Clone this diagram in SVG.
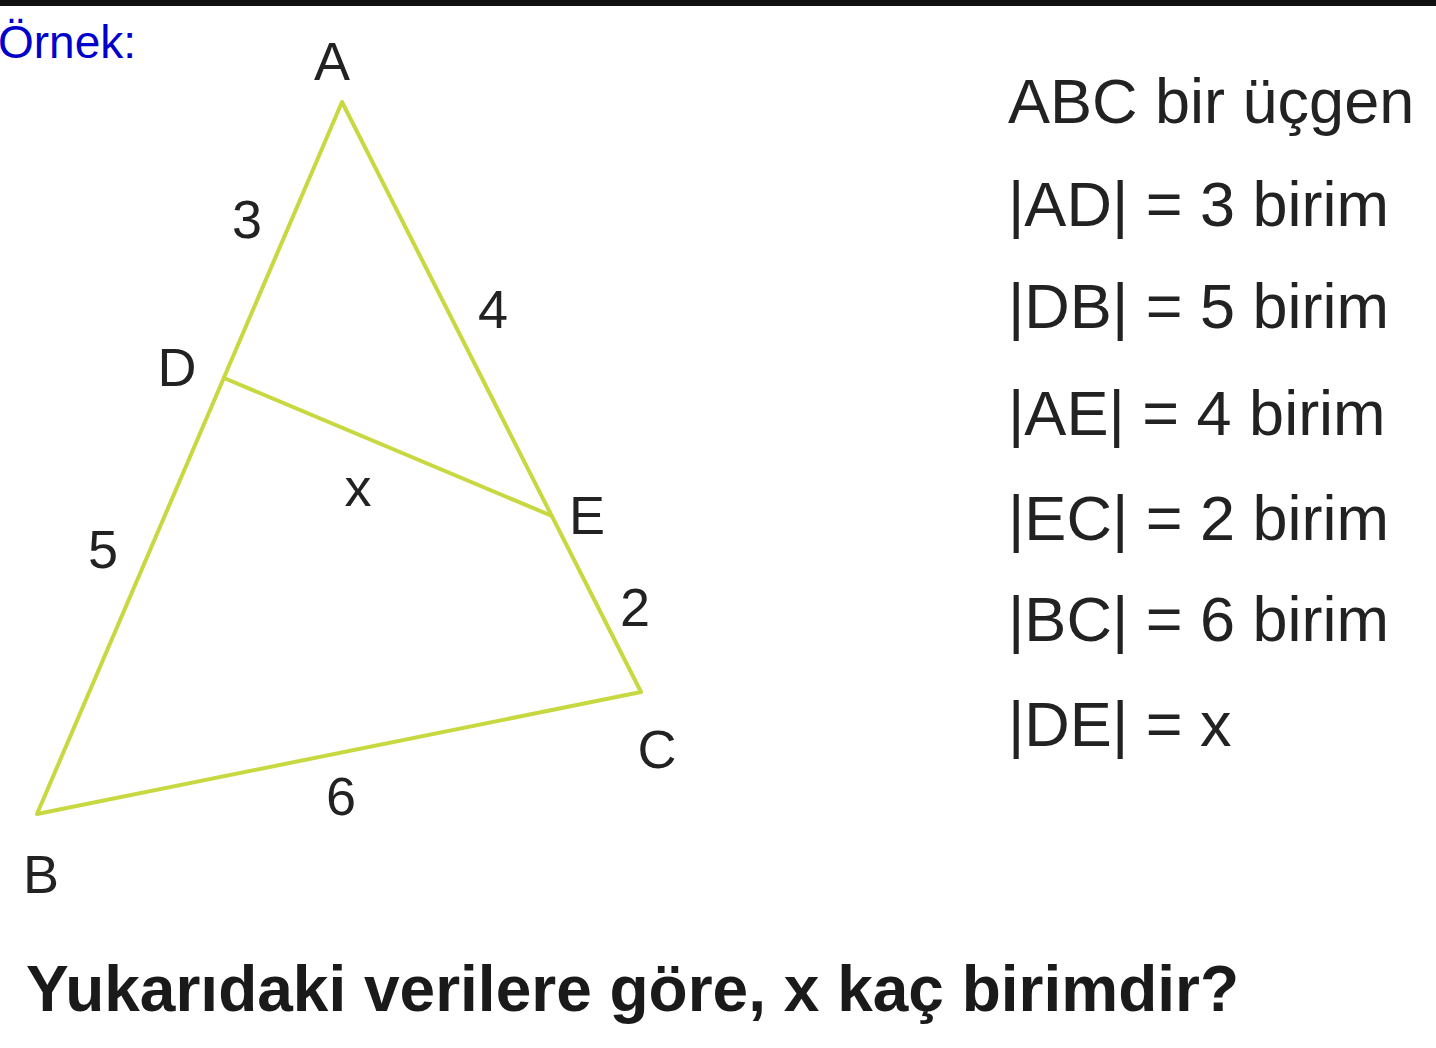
<svg xmlns="http://www.w3.org/2000/svg" width="1436" height="1048" viewBox="0 0 1436 1048">
<style>
.lbl{font-family:"Liberation Sans",Arial,sans-serif;font-size:54px;fill:#222;text-anchor:middle}
.txt{font-family:"Liberation Sans",Arial,sans-serif;font-size:63px;fill:#222}
.seg{stroke:#c8d840;stroke-width:4;fill:none;stroke-linecap:round;stroke-linejoin:round}
</style>
<rect x="0" y="0" width="1436" height="1048" fill="#fff"/>
<rect x="0" y="0" width="1436" height="6" fill="#111"/>
<text x="-2" y="58" font-family="Liberation Sans,Arial,sans-serif" font-size="46" fill="#0000cc">Örnek:</text>
<g id="connectors">
<path class="seg" d="M342,102 L37,814 L641,692 Z"/>
<path class="seg" d="M224,378 L552,516"/>
</g>
<g id="A"><text class="lbl" x="332" y="80">A</text></g>
<g id="B"><text class="lbl" x="41" y="893">B</text></g>
<g id="C"><text class="lbl" x="657" y="768">C</text></g>
<g id="D"><text class="lbl" x="177" y="386">D</text></g>
<g id="E"><text class="lbl" x="587" y="534">E</text></g>
<g id="labels">
<text class="lbl" x="247" y="238">3</text>
<text class="lbl" x="493" y="328">4</text>
<text class="lbl" x="358" y="506">x</text>
<text class="lbl" x="103" y="568">5</text>
<text class="lbl" x="635" y="626">2</text>
<text class="lbl" x="341" y="815">6</text>
</g>
<g id="givens">
<text class="txt" x="1008" y="123">ABC bir üçgen</text>
<text class="txt" x="1008" y="226">|AD| = 3 birim</text>
<text class="txt" x="1008" y="328">|DB| = 5 birim</text>
<text class="txt" x="1008" y="435">|AE| = 4 birim</text>
<text class="txt" x="1008" y="540">|EC| = 2 birim</text>
<text class="txt" x="1008" y="641">|BC| = 6 birim</text>
<text class="txt" x="1008" y="746">|DE| = x</text>
</g>
<text x="26" y="1011" font-family="Liberation Sans,Arial,sans-serif" font-size="64" font-weight="bold" fill="#1a1a1a">Yukarıdaki verilere göre, x kaç birimdir?</text>
</svg>
